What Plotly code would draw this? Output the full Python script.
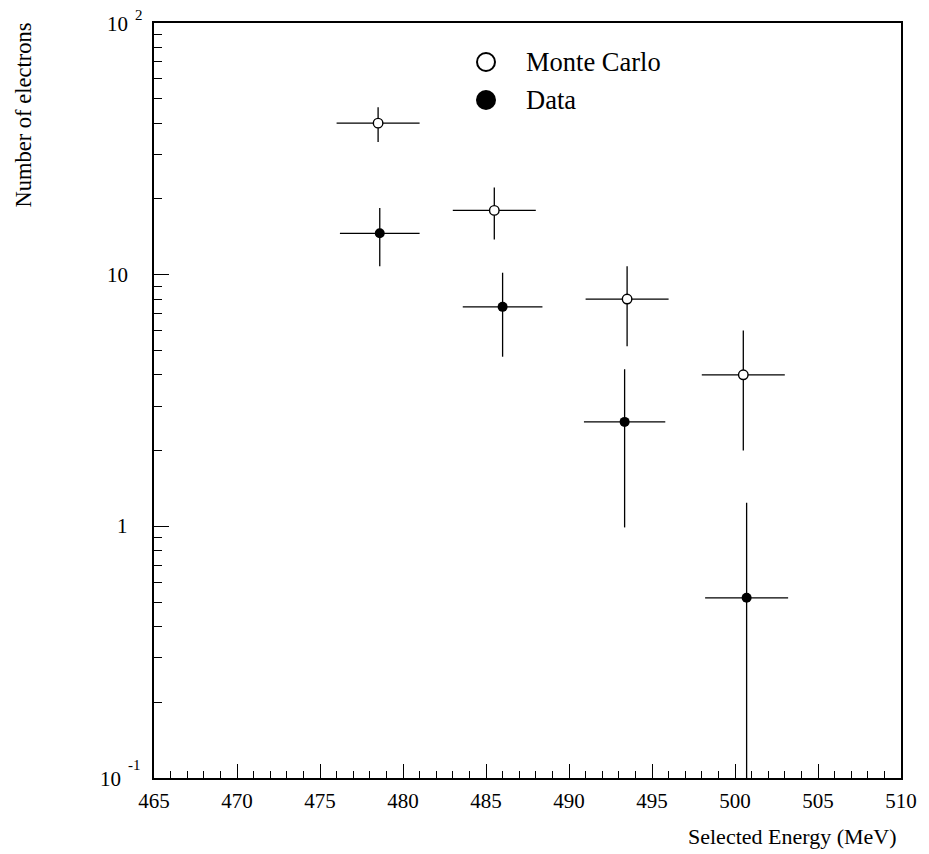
import math
import plotly.graph_objects as go

# ---------------- data ----------------
mc_energy = [478.5, 485.5, 493.5, 500.5]
mc_counts = [40.0, 18.0, 8.0, 4.0]
mc_err = [6.3, 4.2, 2.8, 2.0]
mc_halfwidth = [2.5, 2.5, 2.5, 2.5]

data_energy = [478.6, 486.0, 493.35, 500.7]
data_counts = [14.6, 7.45, 2.6, 0.52]
data_err = [3.8, 2.73, 1.61, 0.72]
data_halfwidth = [2.4, 2.4, 2.45, 2.5]

x_tick_vals = [465, 470, 475, 480, 485, 490, 495, 500, 505, 510]
y_tick_vals = [100, 10, 1, 0.1]
y_tick_base = ["10", "10", "1", "10"]
y_tick_exp = ["2", "", "", "-1"]
y_minor_vals = [0.2, 0.3, 0.4, 0.5, 0.6, 0.7, 0.8, 0.9,
                2, 3, 4, 5, 6, 7, 8, 9,
                20, 30, 40, 50, 60, 70, 80, 90]

legend_labels = ["Monte Carlo", "Data"]

FONT = "Liberation Serif, Times New Roman, serif"
BLACK = "#000000"

fig = go.Figure()

fig.add_trace(go.Scatter(
    x=mc_energy, y=mc_counts, mode="markers", name=legend_labels[0],
    marker=dict(symbol="circle", size=9.5, color="white",
                line=dict(color=BLACK, width=1.4)),
    error_y=dict(type="data", array=mc_err, arrayminus=mc_err,
                 color=BLACK, thickness=1.3, width=0),
    error_x=dict(type="data", array=mc_halfwidth, arrayminus=mc_halfwidth,
                 color=BLACK, thickness=1.3, width=0),
    showlegend=False,
))

fig.add_trace(go.Scatter(
    x=data_energy, y=data_counts, mode="markers", name=legend_labels[1],
    marker=dict(symbol="circle", size=10, color=BLACK,
                line=dict(color=BLACK, width=0)),
    error_y=dict(type="data", array=data_err, arrayminus=data_err,
                 color=BLACK, thickness=1.3, width=0),
    error_x=dict(type="data", array=data_halfwidth, arrayminus=data_halfwidth,
                 color=BLACK, thickness=1.3, width=0),
    showlegend=False,
))

W, H = 929, 854
ML, MR, MT, MB = 154, 19, 23, 76
PW = W - ML - MR
PH = H - MT - MB

annotations = []
# y tick labels (base + exponent)
for v, base, exp in zip(y_tick_vals, y_tick_base, y_tick_exp):
    ly = math.log10(v)
    if exp:
        annotations.append(dict(
            x=0, xref="paper", y=ly, yref="y", text=base, showarrow=False,
            xanchor="right", yanchor="middle",
            xshift=(-24 if v == 100 else -31), yshift=-1,
            font=dict(family=FONT, size=21, color=BLACK)))
        annotations.append(dict(
            x=0, xref="paper", y=ly, yref="y", text=exp, showarrow=False,
            xanchor="left", yanchor="middle",
            xshift=(-21 if v == 100 else -28), yshift=(8 if v == 100 else 13),
            font=dict(family=FONT, size=15, color=BLACK)))
    else:
        annotations.append(dict(
            x=0, xref="paper", y=ly, yref="y", text=base, showarrow=False,
            xanchor="right", yanchor="middle", xshift=-24, yshift=0,
            font=dict(family=FONT, size=21, color=BLACK)))

# axis titles
annotations.append(dict(
    x=(908 - ML) / PW, xref="paper", y=0, yref="paper",
    text="Selected Energy (MeV)", showarrow=False,
    xanchor="right", yanchor="middle", yshift=-58,
    font=dict(family=FONT, size=22, color=BLACK)))
annotations.append(dict(
    x=0, xref="paper", y=1, yref="paper",
    text="Number of electrons", showarrow=False, textangle=-90,
    xanchor="center", yanchor="top", xshift=(23 - ML), yshift=2,
    font=dict(family=FONT, size=22.5, color=BLACK)))

# legend
leg_x_sym = (490 - ML) / PW
leg_x_txt = (530 - ML) / PW
leg_y = [1 - (62 - MT) / PH, 1 - (100 - MT) / PH]
for lbl, yy in zip(legend_labels, leg_y):
    annotations.append(dict(
        x=leg_x_txt, xref="paper", y=yy, yref="paper", text=lbl,
        showarrow=False, xanchor="left", yanchor="middle", xshift=-2,
        font=dict(family=FONT, size=26.5, color=BLACK)))

shapes = [
    dict(type="circle", xref="paper", yref="paper",
         xsizemode="pixel", ysizemode="pixel",
         xanchor=leg_x_sym, yanchor=leg_y[0],
         x0=-9, x1=9, y0=-9, y1=9,
         fillcolor="white", line=dict(color=BLACK, width=2)),
    dict(type="circle", xref="paper", yref="paper",
         xsizemode="pixel", ysizemode="pixel",
         xanchor=leg_x_sym, yanchor=leg_y[1],
         x0=-10, x1=10, y0=-10, y1=10,
         fillcolor=BLACK, line=dict(color=BLACK, width=0)),
]

fig.update_layout(
    width=W, height=H,
    margin=dict(l=ML, r=MR, t=MT, b=MB, pad=0),
    paper_bgcolor="white", plot_bgcolor="white",
    font=dict(family=FONT, size=21, color=BLACK),
    showlegend=False,
    annotations=annotations,
    shapes=shapes,
    xaxis=dict(
        range=[465, 510], tickvals=x_tick_vals,
        ticktext=[str(v) for v in x_tick_vals],
        ticks="inside", ticklen=14, tickwidth=1.3, tickcolor=BLACK,
        minor=dict(dtick=1, tick0=465, ticks="inside", ticklen=7,
                   tickwidth=1.3, tickcolor=BLACK, showgrid=False),
        showline=True, linewidth=2, linecolor=BLACK, mirror=True,
        showgrid=False, zeroline=False,
        tickfont=dict(family=FONT, size=21, color=BLACK),
        ticklabelstandoff=3,
    ),
    yaxis=dict(
        type="log", range=[-1, 2], tickvals=y_tick_vals,
        showticklabels=False,
        ticks="inside", ticklen=15, tickwidth=1.3, tickcolor=BLACK,
        minor=dict(tickvals=y_minor_vals, ticks="inside", ticklen=8,
                   tickwidth=1.3, tickcolor=BLACK, showgrid=False),
        showline=True, linewidth=2, linecolor=BLACK, mirror=True,
        showgrid=False, zeroline=False,
    ),
)

fig.write_html("out.html", config={"displayModeBar": False})
